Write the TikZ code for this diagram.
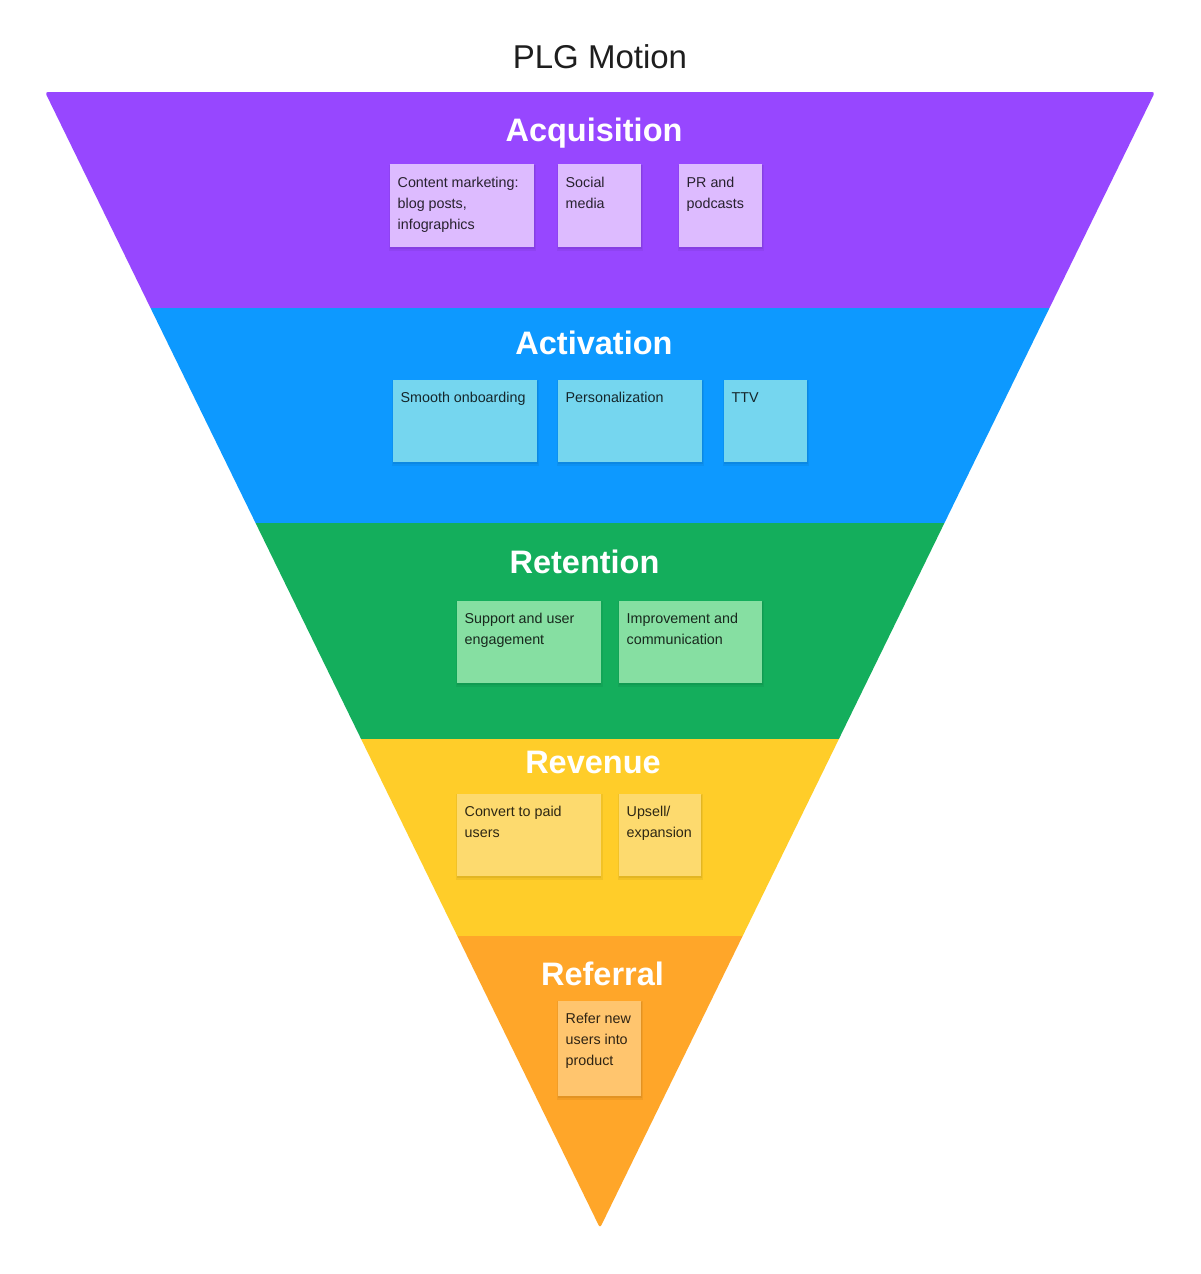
\documentclass[tikz,border=0pt]{standalone}
\usepackage{fontspec}
\setmainfont{Liberation Sans}
\definecolor{cAcq}{HTML}{9747FF}
\definecolor{cAct}{HTML}{0D99FF}
\definecolor{cRet}{HTML}{14AE5C}
\definecolor{cRev}{HTML}{FFCD29}
\definecolor{cRef}{HTML}{FFA629}
\definecolor{sAcq}{HTML}{DDBBFF}
\definecolor{sAct}{HTML}{75D6EF}
\definecolor{sRet}{HTML}{86DFA2}
\definecolor{sRev}{HTML}{FDDA6E}
\definecolor{sRef}{HTML}{FFC56E}
\definecolor{titlecol}{HTML}{1E1E1E}
\tikzset{
  headtext/.style={font=\fontsize{32.5}{38}\selectfont\bfseries, text=white, inner sep=0pt, anchor=base},
  stickybox/.style={inner sep=0pt, anchor=north west, draw=none},
  stickytext/.style={font=\fontsize{14.3}{21}\selectfont, text=black, text opacity=0.82, inner sep=0pt, anchor=base west},
}
\newcommand{\stk}[7]{%
  \fill[black,opacity=0.05] (#2-1,#3+0.5) rectangle (#4+2,#5+4);
  \fill[black,opacity=0.06] (#2,#3+1) rectangle (#4+0.5,#5+2);
  \node[stickybox, fill=#6, minimum width={(#4-#2)*1pt}, minimum height={(#5-#3)*1pt}] (#1) at (#2,#3) {};
  \node[stickytext] (#1t) at ([xshift=7.5pt,yshift=-23pt]#1.north west) {\begin{tabular}[t]{@{}l@{}}#7\end{tabular}};
}
\begin{document}
\begin{tikzpicture}[x=1pt,y=-1pt]
\fill[white] (0,0) rectangle (1200,1274);
\node[font=\fontsize{33}{38}\selectfont, text=titlecol, inner sep=0pt, anchor=base] (title) at (600,68) {PLG Motion};
\begin{scope}
  \clip[rounded corners=3pt] (45,92) -- (1155,92) -- (600,1228) -- cycle;
  \fill[cAcq] (0,80) rectangle (1200,308);
  \fill[cAct] (0,308) rectangle (1200,523);
  \fill[cRet] (0,523) rectangle (1200,739);
  \fill[cRev] (0,739) rectangle (1200,936);
  \fill[cRef] (0,936) rectangle (1200,1240);
\end{scope}
\node[headtext] (hAcq) at (594,141) {Acquisition};
\node[headtext] (hAct) at (594,354) {Activation};
\node[headtext] (hRet) at (584.5,573) {Retention};
\node[headtext] (hRev) at (593,773) {Revenue};
\node[headtext] (hRef) at (602.5,985) {Referral};
\stk{a1}{390}{164}{534}{246.5}{sAcq}{Content marketing:\\blog posts,\\infographics}
\stk{a2}{558}{164}{641}{246.5}{sAcq}{Social\\media}
\stk{a3}{679}{164}{762}{246.5}{sAcq}{PR and\\podcasts}
\stk{b1}{393}{379.5}{537}{462}{sAct}{Smooth onboarding}
\stk{b2}{558}{379.5}{702}{462}{sAct}{Personalization}
\stk{b3}{724}{379.5}{807}{462}{sAct}{TTV}
\stk{c1}{457}{600.5}{600.5}{683}{sRet}{Support and user\\engagement}
\stk{c2}{619}{600.5}{762}{683}{sRet}{Improvement and\\communication}
\stk{d1}{457}{793.5}{600.5}{876}{sRev}{Convert to paid\\users}
\stk{d2}{619}{793.5}{701}{876}{sRev}{Upsell/\\expansion}
\stk{e1}{558}{1000.5}{641}{1096}{sRef}{Refer new\\users into\\product}
\end{tikzpicture}
\end{document}
